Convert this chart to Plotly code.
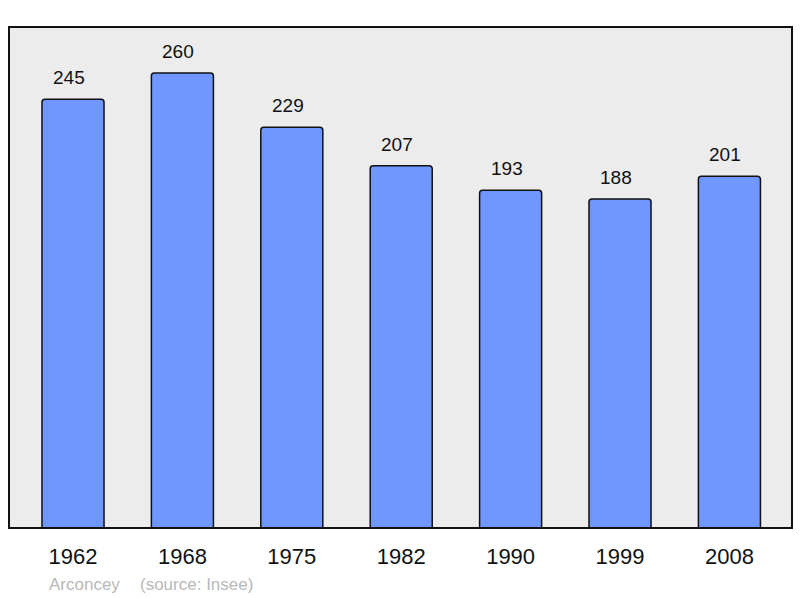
import plotly.graph_objects as go

years = ["1962", "1968", "1975", "1982", "1990", "1999", "2008"]
population = [245, 260, 229, 207, 193, 188, 201]
commune = "Arconcey"
source = "(source: Insee)"

FONT = "Liberation Sans, Arial"

fig = go.Figure()
fig.add_trace(go.Bar(
    x=years, y=population,
    width=0.567,
    marker=dict(color="#7097ff", line=dict(color="#111111", width=1.5), cornerradius=3),
    hoverinfo="x+y",
))

for i, v in enumerate(population):
    fig.add_annotation(x=i, y=v, text=str(v), showarrow=False, yanchor="bottom",
                       yshift=9, xshift=-4, font=dict(size=19, color="#111111", family=FONT))

fig.add_annotation(xref="paper", yref="paper", x=(47-9)/783, y=-(584-528)/501, text=commune,
                   showarrow=False, xanchor="left", yanchor="middle",
                   font=dict(size=17, color="#b8b8b8", family=FONT))
fig.add_annotation(xref="paper", yref="paper", x=(138-9)/783, y=-(584-528)/501, text=source,
                   showarrow=False, xanchor="left", yanchor="middle",
                   font=dict(size=17, color="#b8b8b8", family=FONT))

fig.add_shape(type="rect", xref="paper", yref="paper", x0=0, y0=0, x1=1, y1=1,
              line=dict(color="#111111", width=2), layer="above")

fig.update_layout(
    width=800, height=598,
    margin=dict(l=9, r=8, t=27, b=70),
    paper_bgcolor="white", plot_bgcolor="#ececec",
    showlegend=False,
    font=dict(family=FONT, color="#111111"),
)
fig.update_xaxes(type="category", range=[-0.585, 6.572], showgrid=False, zeroline=False,
                 ticks="", tickfont=dict(size=22, color="#111111"), ticklabelstandoff=13)
fig.update_yaxes(range=[0, 286.3], showgrid=False, zeroline=False, showticklabels=False, ticks="")

fig.write_html("out.html", config={"displayModeBar": False},
               post_script="document.body.style.margin='0';document.body.style.overflow='hidden';")
